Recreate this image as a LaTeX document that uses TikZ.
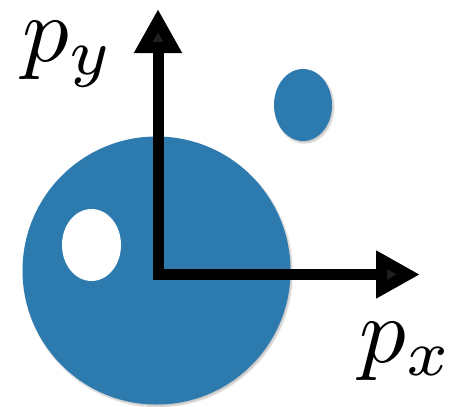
\documentclass[tikz,border=0pt]{standalone}
\usetikzlibrary{arrows.meta,shadows.blur}
\definecolor{dotblue}{RGB}{44,122,174}
\begin{document}
\begin{tikzpicture}[x=1pt,y=-1pt,
  blob/.style={fill=dotblue, draw=none, blur shadow={shadow xshift=1.5pt, shadow yshift=-2pt, shadow blur steps=6, shadow opacity=25}},
  hole/.style={fill=white, draw=none},
  axis/.style={line width=11pt, line join=miter, {Triangle[length=44pt,width=45pt]}-{Triangle[length=44pt,width=45pt]}},
  lab/.style={scale=9.3, inner sep=0pt, anchor=base west}]
  \useasboundingbox (0,0) rectangle (464,407);
  \coordinate (bigc) at (156.5,270.5);
  \coordinate (holec) at (91.5,245);
  \coordinate (smallc) at (303,105);
  \coordinate (ytip) at (158,9);
  \coordinate (origin) at (158,274.5);
  \coordinate (xtip) at (420,274.5);
  \path[blob] (bigc) circle[radius=134];
  \path[hole] (holec) ellipse[x radius=29.5, y radius=36];
  \path[blob] (smallc) ellipse[x radius=29, y radius=36];
  \draw[axis] (ytip) -- (origin) -- (xtip);
  \node[lab] (py) at (21,61) {$p_y$};
  \node[lab] (px) at (358,362) {$p_x$};
\end{tikzpicture}
\end{document}
